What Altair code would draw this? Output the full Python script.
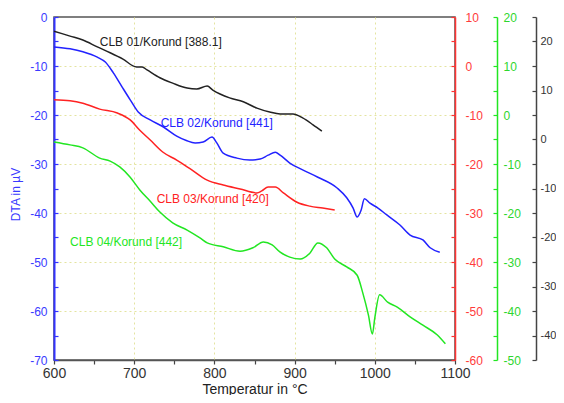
import altair as alt
import pandas as pd

FONT = "Liberation Sans"

# ---- data ----
# CLB 01 (black axis units)
black_T = [600, 620, 636, 654, 670, 686, 703, 710, 716, 732, 748, 766, 778, 791, 798, 819, 836, 853, 869, 882, 898, 910, 923, 934]
black_v = [22.1, 21.1, 20.3, 18.9, 17.7, 16.4, 14.8, 14.8, 14.2, 12.6, 11.5, 10.5, 10.3, 10.9, 10.1, 8.5, 7.7, 6.4, 5.6, 5.2, 5.2, 4.4, 3.0, 1.7]

# CLB 02 (blue / left axis units)
blue_T = [600, 620, 636, 654, 664, 674, 685, 695, 705, 720, 736, 753, 765, 776, 786, 797, 803, 811, 828, 844, 857, 867, 876, 882, 894,
          910, 929, 953, 965, 973, 978, 983, 987, 994, 1004, 1015, 1031, 1044, 1060, 1069, 1081]
blue_v = [-6.1, -6.5, -7.1, -8.2, -9.2, -11.4, -14.3, -16.9, -19.4, -21.0, -22.4, -24.3, -25.2, -25.7, -25.5, -24.5, -25.7, -27.8, -28.8, -29.2, -29.0, -28.2, -27.6, -28.2, -29.8,
          -31.2, -32.7, -34.9, -36.9, -39.0, -40.8, -39.4, -37.1, -38.0, -39.0, -40.4, -42.4, -44.5, -45.5, -47.1, -48.0]

# CLB 03 (red axis units)
red_T = [600, 620, 636, 657, 679, 695, 707, 720, 736, 753, 770, 791, 811, 832, 853, 859, 867, 876, 886, 903, 919, 935, 950]
red_v = [-6.9, -7.1, -7.6, -8.8, -9.6, -11.0, -13.1, -15.1, -17.6, -19.2, -21.0, -23.3, -24.3, -25.1, -25.9, -25.5, -24.7, -24.7, -25.9, -27.8, -28.6, -29.0, -29.4]

# CLB 04 (green axis units)
green_T = [600, 620, 636, 657, 670, 682, 695, 707, 720, 732, 748, 766, 782, 791, 811, 832, 848, 861, 872, 882, 894, 907, 919, 929, 940,
           950, 965, 978, 985, 992, 997, 1000, 1006, 1016, 1028, 1044, 1060, 1078, 1088]
green_v = [-5.5, -6.1, -6.7, -8.8, -9.4, -10.6, -12.7, -15.3, -17.6, -19.8, -22.0, -23.5, -25.1, -26.1, -26.9, -27.8, -27.1, -25.9, -26.5, -28.0, -29.0, -29.4, -28.2, -26.1, -27.1,
           -29.4, -31.0, -32.7, -36.3, -40.8, -44.7, -41.4, -36.7, -38.2, -39.2, -41.2, -42.9, -44.9, -46.7]

# curve labels (position in temperature / left-axis units)
label_text = ["CLB 01/Korund [388.1]", "CLB 02/Korund [441]", "CLB 03/Korund [420]", "CLB 04/Korund [442]"]
label_T = [657, 733, 728, 620]
label_v = [-5.1, -21.6, -37.1, -45.9]
label_color = ["#222222", "#2222ff", "#ff2222", "#22e622"]

# axis tick values
x_ticks = list(range(600, 1101, 50))
blue_ticks = list(range(-70, 1, 5))
red_ticks = list(range(-60, 11, 5))
green_ticks = list(range(-50, 21, 5))
black_ticks = list(range(-45, 26, 5))

GRID = "#e4e4a0"
MAJOR10 = "datum.value % 10 === 0 ? '' + datum.value : ''"

x_enc = alt.X(
    "T:Q",
    scale=alt.Scale(domain=[600, 1100], nice=False, zero=False),
    axis=alt.Axis(
        values=x_ticks,
        labelExpr="datum.value % 100 === 0 ? '' + datum.value : ''",
        labelOverlap=False, labelFlush=False,
        title="Temperatur in °C", titleFontSize=14, titleFontWeight="normal", titleColor="#222",
        titleY=33, titleBaseline="alphabetic",
        grid=True, gridColor=GRID, gridDash=[2, 3], gridWidth=1,
        gridOpacity={"condition": {"test": "datum.value % 100 === 0", "value": 1}, "value": 0},
        tickSize=4, tickColor="#444", tickWidth=1.2,
        domainColor="#555", domainWidth=1.5,
        labelFontSize=14, labelColor="#333", labelPadding=2,
    ),
)


def right_axis(ticks, color, label_color, offset, pad, size=12):
    return alt.Axis(
        orient="right", offset=offset, values=ticks,
        labelExpr=MAJOR10,
        labelOverlap=False, labelFlush=False,
        title=None, grid=False,
        tickSize={"expr": "-4"}, tickColor=color, tickWidth=1.2,
        domainColor=color, domainWidth=1.5,
        labelFontSize=size, labelColor=label_color, labelPadding=pad,
    )


blue_df = pd.DataFrame({"T": blue_T, "v": blue_v})
red_df = pd.DataFrame({"T": red_T, "v": red_v})
green_df = pd.DataFrame({"T": green_T, "v": green_v})
black_df = pd.DataFrame({"T": black_T, "v": black_v})
lab_df = pd.DataFrame({"T": label_T, "v": label_v, "label": label_text})

blue = alt.Chart(blue_df).mark_line(color="#2222ff", strokeWidth=1.5, interpolate="monotone").encode(
    x=x_enc,
    y=alt.Y("v:Q", scale=alt.Scale(domain=[-70, 0], nice=False, zero=False),
            axis=alt.Axis(
                orient="left", values=blue_ticks,
                labelExpr=MAJOR10,
                labelOverlap=False, labelFlush=False,
                title="DTA in µV", titleColor="#3a3aff", titleFontSize=12, titleFontWeight="normal",
                titleX=-39, titleY=177, titleAngle=270, titleAlign="center", titleBaseline="middle",
                grid=True, gridColor=GRID, gridDash=[2, 3], gridWidth=1,
                gridOpacity={"condition": {"test": "datum.value % 10 === 0 && datum.value > -70 && datum.value < 0", "value": 1}, "value": 0},
                tickSize={"expr": "-4"}, tickColor="#3333ff", tickWidth=1.2,
                domainColor="#3333ff", domainWidth=2,
                labelFontSize=12, labelColor="#3a3aff", labelPadding=11,
            )),
)

red = alt.Chart(red_df).mark_line(color="#ff2222", strokeWidth=1.5, interpolate="monotone").encode(
    x=x_enc,
    y=alt.Y("v:Q", scale=alt.Scale(domain=[-60, 10], nice=False, zero=False),
            axis=right_axis(red_ticks, "#ff3333", "#ff3b3b", 0, 14)),
)

green = alt.Chart(green_df).mark_line(color="#22e622", strokeWidth=1.5, interpolate="monotone").encode(
    x=x_enc,
    y=alt.Y("v:Q", scale=alt.Scale(domain=[-50, 20], nice=False, zero=False),
            axis=right_axis(green_ticks, "#22e622", "#2ed62e", 42, 10)),
)

black = alt.Chart(black_df).mark_line(color="#222222", strokeWidth=1.5, interpolate="monotone").encode(
    x=x_enc,
    y=alt.Y("v:Q", scale=alt.Scale(domain=[-45, 25], nice=False, zero=False),
            axis=right_axis(black_ticks, "#444444", "#333333", 81, 8, 11)),
)

labels = alt.Chart(lab_df).mark_text(align="left", baseline="middle", fontSize=12, font=FONT).encode(
    x=x_enc,
    y=alt.Y("v:Q", scale=alt.Scale(domain=[-70, 0], nice=False, zero=False), axis=None),
    text="label:N",
    color=alt.Color("label:N", scale=alt.Scale(domain=label_text, range=label_color), legend=None),
)

chart = alt.layer(blue, red, green, black, labels).resolve_scale(y="independent").properties(
    width=401, height=343,
    autosize=alt.AutoSizeParams(type="none"),
    padding={"left": 46, "top": 9, "right": 101, "bottom": 35},
).configure_axis(
    labelFont=FONT, titleFont=FONT,
).configure_view(stroke="#555", strokeWidth=1.5)

chart.save("out.html", embed_options={"renderer": "svg", "actions": False})
